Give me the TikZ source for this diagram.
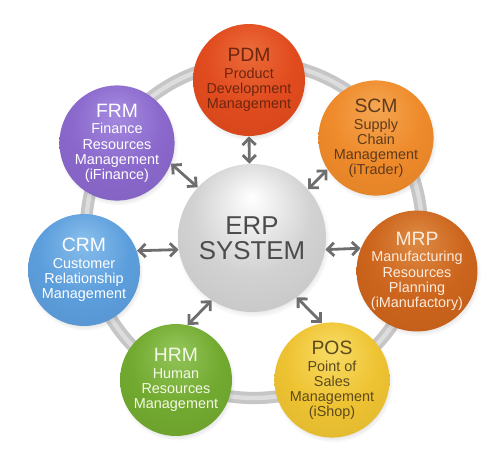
\documentclass[tikz,border=0pt]{standalone}
\usepackage{fontspec}
\setmainfont{Liberation Sans}
\usetikzlibrary{arrows.meta, shadows}

\definecolor{ringColor}{HTML}{C6C6C6}
\definecolor{ringLight}{HTML}{DDDDDD}
\definecolor{arrowColor}{HTML}{6E6E6E}
\definecolor{erpColor}{HTML}{D2D2D2}
\definecolor{erpText}{HTML}{4B4B4B}
\definecolor{pdmColor}{HTML}{E14B1E}
\definecolor{pdmLight}{HTML}{EC6B3A}
\definecolor{pdmText}{HTML}{6E260F}
\definecolor{scmColor}{HTML}{EE8A2A}
\definecolor{scmLight}{HTML}{F5A652}
\definecolor{scmText}{HTML}{5E3A1C}
\definecolor{frmColor}{HTML}{8A68CC}
\definecolor{frmLight}{HTML}{A58BE0}
\definecolor{crmColor}{HTML}{5C9EDC}
\definecolor{crmLight}{HTML}{88BEEC}
\definecolor{mrpColor}{HTML}{CC641C}
\definecolor{mrpLight}{HTML}{DE8A44}
\definecolor{mrpText}{HTML}{FBEBDD}
\definecolor{hrmColor}{HTML}{72AA30}
\definecolor{hrmLight}{HTML}{93C55A}
\definecolor{hrmText}{HTML}{F4F9E6}
\definecolor{posColor}{HTML}{EEC332}
\definecolor{posLight}{HTML}{F8DC66}
\definecolor{posText}{HTML}{5C4A1C}

\colorlet{moduleColor}{gray}
\colorlet{moduleLight}{white}
\pgfdeclareradialshading[moduleLight,moduleColor]{moduleShade}{\pgfpoint{0bp}{14bp}}{color(0bp)=(moduleLight); color(20bp)=(moduleColor); color(50bp)=(moduleColor!88!black)}

\tikzstyle{diagram} = [x = 0.02cm, y = -0.02cm]
\tikzstyle{ringStyle} = [color=ringColor, line width=7pt]
\tikzstyle{ringInner} = [color=ringLight, line width=2.5pt]
\tikzstyle{linkStyle} = [color=arrowColor, line width=1.6pt, <->, >={Straight Barb[length=3.8pt, width=7.5pt]}]
\tikzstyle{moduleStyle} = [circle, minimum size=2.24cm, inner sep=0pt, align=center, shading=moduleShade,
  circular drop shadow={shadow xshift=.6pt, shadow yshift=-1.4pt, shadow scale=1.04, opacity=.3},
  font=\fontsize{8.2}{8.6}\selectfont]
\newcommand{\abbr}[1]{{\fontsize{11}{11}\selectfont #1}}
\newcommand{\moduleNode}[7][]{
  \colorlet{moduleColor}{#4}
  \colorlet{moduleLight}{#5}
  \node [moduleStyle, text=#6, #1] (#2) at (#3) {#7};
}

\begin{document}
\begin{tikzpicture}[diagram]
  \useasboundingbox (0,0) rectangle (500,453);
  % ring behind the modules
  \coordinate (hub) at (254,230);
  \draw [ringStyle] (hub) circle [radius=168];
  \draw [ringInner] (hub) circle [radius=168];

  \moduleNode[minimum size=2.96cm, font=\fontsize{14.7}{14.3}\selectfont]{erp}{252,238}{erpColor}{white}{erpText}{ERP\\SYSTEM}

  \moduleNode{pdm}{249,80}{pdmColor}{pdmLight}{pdmText}{\abbr{PDM}\\[1pt]Product\\Development\\Management}
  \moduleNode{scm}{376,138}{scmColor}{scmLight}{scmText}{\abbr{SCM}\\[1pt]Supply\\Chain\\Management\\(iTrader)}
  \moduleNode{mrp}{417,271}{mrpColor}{mrpLight}{mrpText}{\abbr{MRP}\\[1pt]Manufacturing\\Resources\\Planning\\(iManufactory)}
  \moduleNode{pos}{332,380}{posColor}{posLight}{posText}{\abbr{POS}\\[1pt]Point of\\Sales\\Management\\(iShop)}
  \moduleNode{hrm}{176,380}{hrmColor}{hrmLight}{hrmText}{\abbr{HRM}\\[1pt]Human\\Resources\\Management}
  \moduleNode{crm}{84,270}{crmColor}{crmLight}{white}{\abbr{CRM}\\[1pt]Customer\\Relationship\\Management}
  \moduleNode{frm}{117,143}{frmColor}{frmLight}{white}{\abbr{FRM}\\[1pt]Finance\\Resources\\Management\\(iFinance)}

  % links to the ERP core
  \draw [linkStyle] (pdm.south) -- (erp.92);
  \draw [linkStyle] (scm.-147) -- (erp.41);
  \draw [linkStyle] (mrp.158) -- (erp.-9);
  \draw [linkStyle] (pos.100) -- (erp.-53);
  \draw [linkStyle] (hrm.78) -- (erp.237);
  \draw [linkStyle] (crm.20) -- (erp.189);
  \draw [linkStyle] (frm.-21) -- (erp.137);
\end{tikzpicture}
\end{document}
